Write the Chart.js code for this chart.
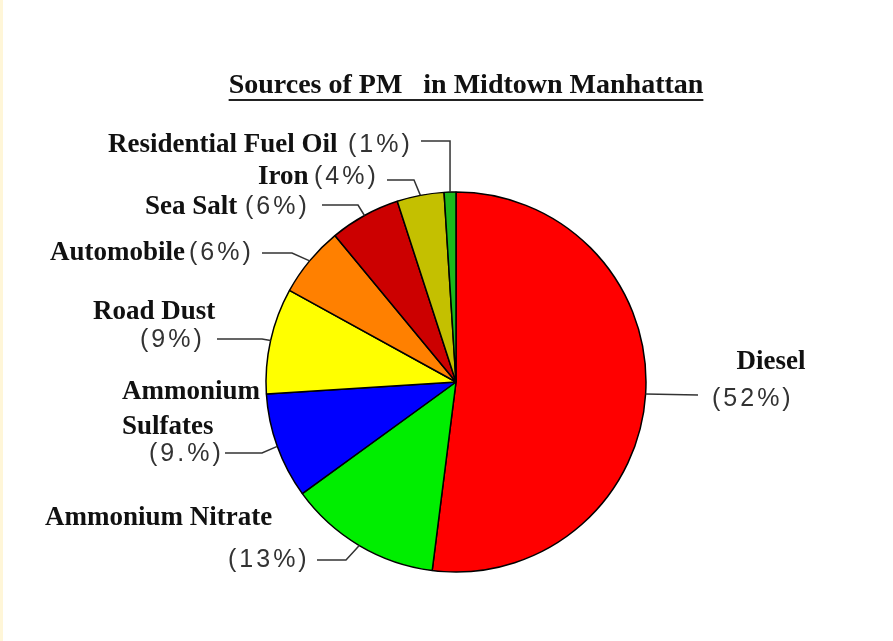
<!DOCTYPE html>
<html>
<head>
<meta charset="utf-8">
<script src="https://cdn.jsdelivr.net/npm/chart.js@4"></script>
<style>
  html, body { margin: 0; padding: 0; background: #ffffff; }
  canvas { display: block; }
</style>
</head>
<body>
<canvas id="myChart" width="893" height="641"></canvas>
<script>
// source names, shares (%) and the percent labels as printed
var sources = ['Diesel', 'Ammonium Nitrate', 'Ammonium Sulfates', 'Road Dust',
               'Automobile', 'Sea Salt', 'Iron', 'Residential Fuel Oil'];
var shares = [52, 13, 9, 9, 6, 6, 4, 1];
var shareLabels = ['(52%)', '(13%)', '(9.%)', '(9%)', '(6%)', '(6%)', '(4%)', '(1%)'];
var sliceColors = ['#ff0000', '#00ee00', '#0000ff', '#ffff00',
                   '#ff8000', '#cc0000', '#c4c000', '#1cb81c'];
var titleText = 'Sources of PM   in Midtown Manhattan';

// where each label sits (name lines, percent text, leader line start + elbow)
var labelLayout = [
    { name: [['Diesel', 771, 362, 'center']], pct: [712, 399], line: [698, 395], elbow: null },
    { name: [['Ammonium Nitrate', 45, 518, 'left']], pct: [228, 560], line: [317, 560], elbow: 346 },
    { name: [['Ammonium', 122, 392, 'left'], ['Sulfates', 122, 427, 'left']], pct: [149, 454], line: [225, 453], elbow: 262 },
    { name: [['Road Dust', 93, 312, 'left']], pct: [140, 340], line: [217, 339], elbow: 262 },
    { name: [['Automobile', 50, 253, 'left']], pct: [189, 253], line: [262, 253], elbow: 292 },
    { name: [['Sea Salt', 145, 207, 'left']], pct: [245, 207], line: [322, 205], elbow: 358 },
    { name: [['Iron', 258, 177, 'left']], pct: [314, 177], line: [387, 180], elbow: 414 },
    { name: [['Residential Fuel Oil', 108, 145, 'left']], pct: [348, 145], line: [421, 141], elbow: 'v' }
];

var labelPlugin = {
    id: 'labelPlugin',
    beforeDraw: function(chart) {
        var ctx = chart.ctx;
        ctx.save();
        ctx.fillStyle = '#ffffff';
        ctx.fillRect(0, 0, chart.width, chart.height);
        ctx.fillStyle = '#fff6d8';
        ctx.fillRect(0, 0, 3, chart.height);
        ctx.restore();
    },
    afterDraw: function(chart) {
        var ctx = chart.ctx;
        var meta = chart.getDatasetMeta(0);
        ctx.save();

        // title with underline
        ctx.font = 'bold 28px "Liberation Serif"';
        ctx.fillStyle = '#111';
        ctx.textBaseline = 'middle';
        ctx.textAlign = 'center';
        ctx.fillText(titleText, 466, 86);
        var tw = ctx.measureText(titleText).width;
        ctx.strokeStyle = '#222';
        ctx.lineWidth = 2;
        ctx.beginPath();
        ctx.moveTo(466 - tw / 2, 100);
        ctx.lineTo(466 + tw / 2, 100);
        ctx.stroke();

        for (var i = 0; i < labelLayout.length; i++) {
            var lay = labelLayout[i];
            var arc = meta.data[i];
            var a = (arc.startAngle + arc.endAngle) / 2;
            var px = arc.x + Math.cos(a) * arc.outerRadius;
            var py = arc.y + Math.sin(a) * arc.outerRadius;

            ctx.font = 'bold 27px "Liberation Serif"';
            ctx.fillStyle = '#111';
            ctx.letterSpacing = '0px';
            for (var k = 0; k < lay.name.length; k++) {
                ctx.textAlign = lay.name[k][3];
                ctx.fillText(lay.name[k][0], lay.name[k][1], lay.name[k][2]);
            }

            ctx.font = '25px "Liberation Sans"';
            ctx.fillStyle = '#333';
            ctx.letterSpacing = '3px';
            ctx.textAlign = 'left';
            ctx.fillText(shareLabels[i], lay.pct[0], lay.pct[1]);
            ctx.letterSpacing = '0px';

            ctx.strokeStyle = '#333';
            ctx.lineWidth = 1.5;
            ctx.beginPath();
            ctx.moveTo(lay.line[0], lay.line[1]);
            if (lay.elbow === 'v') {
                ctx.lineTo(px, lay.line[1]);
            } else if (lay.elbow !== null) {
                ctx.lineTo(lay.elbow, lay.line[1]);
            }
            ctx.lineTo(px, py);
            ctx.stroke();
        }
        ctx.restore();
    }
};

var ctx = document.getElementById('myChart').getContext('2d');
var myChart = new Chart(ctx, {
    type: 'pie',
    data: {
        labels: sources,
        datasets: [{
            data: shares,
            backgroundColor: sliceColors,
            borderColor: '#000000',
            borderWidth: 1.5
        }]
    },
    options: {
        responsive: false,
        animation: false,
        devicePixelRatio: 1,
        radius: 190,
        layout: { padding: { left: 19, right: 0, top: 123, bottom: 0 } },
        plugins: {
            legend: { display: false },
            tooltip: { enabled: false },
            title: { display: false }
        }
    },
    plugins: [labelPlugin]
});
</script>
</body>
</html>
